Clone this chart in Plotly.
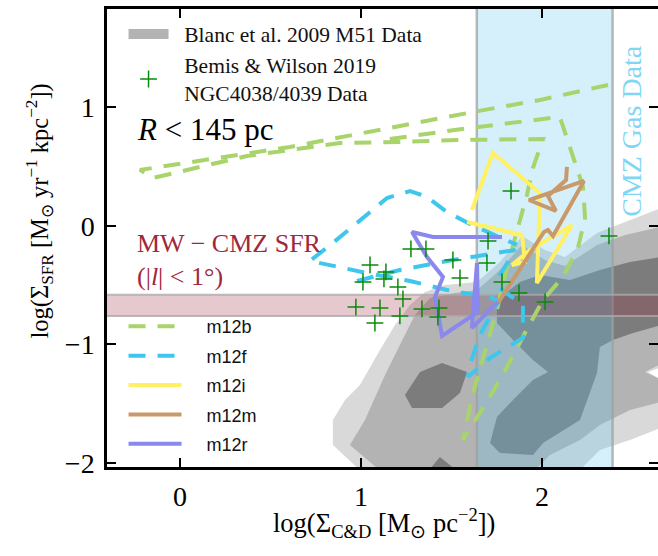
import plotly.graph_objects as go

# ---------------- axes ----------------
x_range = [-0.403, 2.641]
y_range = [-2.034, 1.831]
x_ticks = [0, 1, 2]
x_tick_labels = ["0", "1", "2"]
y_ticks = [-2, -1, 0, 1]
y_tick_labels = ["−2", "−1", "0", "1"]

# ---------------- reference bands ----------------
cmz_gas_x = [1.64, 2.39]          # CMZ gas surface density range
mw_sfr_y = [-0.58, -0.76]         # MW CMZ SFR range
band_full_y = [-2.2, 2.0]
band_full_x = [-0.6, 2.8]

# ---------------- Blanc et al. 2009 M51 contours ----------------
blanc_lo_x = [0.845, 0.912, 0.994, 1.105, 1.188, 1.271, 1.354, 1.464, 1.641, 1.768, 1.890, 2.017, 2.127,
              2.304, 2.459, 2.70, 2.70, 2.586, 2.70, 2.70, 2.486, 2.320, 2.182, 1.022, 0.845]
blanc_lo_y = [-1.637, -1.468, -1.342, -1.046, -0.835, -0.667, -0.557, -0.498, -0.473, -0.304, -0.084, -0.203,
              -0.262, -0.059, 0.034, 0.177, -1.173, -1.232, -1.342, -1.679, -1.806, -1.890, -2.1, -2.1, -1.848]
blanc_mid_x = [0.939, 1.022, 1.133, 1.215, 1.298, 1.381, 1.519, 1.641, 1.768, 1.890, 2.017, 2.127, 2.304,
               2.459, 2.70, 2.70, 2.569, 2.70, 2.70, 2.486, 2.320, 2.210, 2.044, 1.934, 1.133]
blanc_mid_y = [-1.848, -1.637, -1.257, -1.004, -0.751, -0.608, -0.565, -0.540, -0.371, -0.160, -0.287, -0.338,
               -0.160, -0.076, 0.008, -1.131, -1.232, -1.325, -1.468, -1.553, -1.679, -1.806, -1.932, -2.1, -2.1]
blanc_hi_x = [1.751, 1.878, 1.989, 2.155, 2.320, 2.486, 2.70, 2.70, 2.503, 2.392, 2.320, 2.304, 2.210, 2.006,
              1.950, 1.768, 1.713, 1.751, 1.840, 1.950, 2.033, 1.950, 1.840, 1.751, None,
              1.243, 1.326, 1.448, 1.586, 1.547, 1.448, 1.282, None,
              1.354, 1.436, 1.558]
blanc_hi_y = [-0.624, -0.473, -0.414, -0.456, -0.371, -0.304, -0.253, -0.819, -0.903, -0.962, -1.021, -1.241,
              -1.637, -1.831, -1.932, -1.916, -1.831, -1.612, -1.468, -1.300, -1.232, -1.131, -0.962, -0.819, None,
              -1.426, -1.232, -1.156, -1.232, -1.409, -1.536, -1.536, None,
              -2.1, -1.949, -2.1]

# ---------------- Bemis & Wilson 2019 ----------------
bw_x = [1.276, 1.359, 1.050, 1.138, 1.127, 1.011, 1.204, 1.232, 0.972, 1.105, 1.337, 1.431, 1.215, 1.425,
        1.077, 1.508, 1.547, 1.702, 1.696, 1.829, 1.779, 1.873, 2.017, 2.370]
bw_y = [-0.194, -0.194, -0.329, -0.388, -0.447, -0.473, -0.515, -0.616, -0.684, -0.692, -0.700, -0.692,
        -0.759, -0.768, -0.819, -0.287, -0.439, -0.127, -0.312, 0.295, -0.473, -0.565, -0.641, -0.084]

# ---------------- simulations ----------------
m12b_x = [2.365, 1.989, 1.619, 1.160, 0.608, -0.221, -0.149, 0.370, 0.884, 1.215, 1.547, 2.006, 1.950, 1.917,
          1.862, 1.807, 1.751, 1.657, 1.613, 1.564, 1.586, 1.702, 1.807, 1.906, 2.006, 2.116, 2.199, 2.238,
          2.227, 2.099, 1.602, 1.122]
m12b_y = [1.190, 1.063, 0.962, 0.827, 0.667, 0.473, 0.405, 0.591, 0.700, 0.709, 0.726, 0.734, 0.489, 0.262,
          -0.034, -0.346, -0.709, -1.190, -1.443, -1.806, -1.747, -1.468, -1.190, -0.903, -0.624, -0.430,
          -0.186, 0.068, 0.329, 0.920, 0.827, 0.726]
m12f_x = [0.978, 1.215, 1.508, 1.768, 1.851, 1.768, 1.779, 1.895, 1.895, 1.713, 1.591, 1.602, 1.657, 1.757,
          1.729, 1.475, 1.271, 1.033, 0.901, 0.718, 0.845, 0.994, 1.144, 1.271, 1.365, 1.475, 1.602, 1.862]
m12f_y = [-0.464, -0.371, -0.287, -0.219, -0.203, -0.414, -0.540, -0.667, -0.945, -1.114, -1.274, -1.173,
          -0.920, -0.641, -0.608, -0.540, -0.464, -0.397, -0.354, -0.295, -0.143, 0.051, 0.236, 0.295, 0.245,
          0.118, 0.017, -0.160]
m12i_x = [1.613, 1.729, 1.989, 1.983, 1.972, 2.166, 1.934, 1.834, 1.906, 1.890, 1.586]
m12i_y = [0.135, 0.616, 0.278, -0.118, -0.481, 0.008, -0.203, -0.329, -0.304, -0.076, 0.034]
m12m_x = [1.757, 2.011, 2.033, 2.061, 2.232, 1.928, 2.077, 2.033, 2.133, 2.138]
m12m_y = [-0.650, -0.051, -0.034, -0.084, 0.380, 0.219, 0.127, 0.253, 0.388, 0.498]
m12r_x = [1.779, 1.398, 1.282, 1.365, 1.453, 1.409, 1.448, 1.646, 1.641, 1.613, 1.757]
m12r_y = [-0.093, -0.093, -0.051, -0.262, -0.430, -0.599, -0.928, -0.726, -0.312, -0.861, -0.641]

sim_names = ["m12b", "m12f", "m12i", "m12m", "m12r"]
sim_colors = ["#a9d36b", "#3fc6ec", "#fff064", "#c8996b", "#8a88ec"]
sim_dash = ["17px,12px", "17px,12px", "solid", "solid", "solid"]
sim_x = [m12b_x, m12f_x, m12i_x, m12m_x, m12r_x]
sim_y = [m12b_y, m12f_y, m12i_y, m12m_y, m12r_y]

SERIF = "Liberation Serif"
SANS = "Liberation Sans"
NB = "\u00a0"

fig = go.Figure()

# contours
fig.add_trace(go.Scatter(x=blanc_lo_x, y=blanc_lo_y, fill="toself", fillcolor="#d9d9d9", mode="none",
                         showlegend=False, hoverinfo="skip"))
fig.add_trace(go.Scatter(x=blanc_mid_x, y=blanc_mid_y, fill="toself", fillcolor="#b3b3b3", mode="none",
                         showlegend=False, hoverinfo="skip"))
fig.add_trace(go.Scatter(x=blanc_hi_x, y=blanc_hi_y, fill="toself", fillcolor="#7c7c7c", mode="none",
                         showlegend=False, hoverinfo="skip"))
# legend entry for the contours
fig.add_trace(go.Scatter(x=[None], y=[None], mode="lines", line=dict(color="#b3b3b3", width=15),
                         name=NB * 2 + "Blanc et al. 2009 M51 Data", legend="legend", legendrank=1,
                         hoverinfo="skip"))

# CMZ gas band (over contours)
fig.add_trace(go.Scatter(x=[cmz_gas_x[0], cmz_gas_x[1], cmz_gas_x[1], cmz_gas_x[0], cmz_gas_x[0]],
                         y=[band_full_y[0], band_full_y[0], band_full_y[1], band_full_y[1], band_full_y[0]],
                         fill="toself", fillcolor="rgba(100,200,240,0.27)", mode="none",
                         showlegend=False, hoverinfo="skip"))
for xv in cmz_gas_x:
    fig.add_trace(go.Scatter(x=[xv, xv], y=band_full_y, mode="lines",
                             line=dict(color="rgba(160,160,160,0.75)", width=2.5),
                             showlegend=False, hoverinfo="skip"))

# MW CMZ SFR band
fig.add_trace(go.Scatter(x=[band_full_x[0], band_full_x[1], band_full_x[1], band_full_x[0], band_full_x[0]],
                         y=[mw_sfr_y[0], mw_sfr_y[0], mw_sfr_y[1], mw_sfr_y[1], mw_sfr_y[0]],
                         fill="toself", fillcolor="rgba(150,40,60,0.25)", mode="none",
                         showlegend=False, hoverinfo="skip"))
for yv in mw_sfr_y:
    fig.add_trace(go.Scatter(x=band_full_x, y=[yv, yv], mode="lines",
                             line=dict(color="rgba(170,170,170,0.8)", width=2),
                             showlegend=False, hoverinfo="skip"))

# simulations
for nm, c, d, xs, ys in zip(sim_names, sim_colors, sim_dash, sim_x, sim_y):
    fig.add_trace(go.Scatter(x=xs, y=ys, mode="lines", name=NB * 4 + nm,
                             line=dict(color=c, width=4, dash=d),
                             legend="legend2", legendgroup=nm, hoverinfo="skip"))

# observations
fig.add_trace(go.Scatter(x=bw_x, y=bw_y, mode="markers",
                         name=NB * 2 + "Bemis & Wilson 2019<br>" + NB * 2 + "NGC4038/4039 Data",
                         marker=dict(symbol="cross-thin", size=12, line=dict(color="#0a8a0a", width=1.5)),
                         legend="legend", legendrank=2, hoverinfo="skip"))

axis_common = dict(showline=True, linecolor="black", linewidth=2.5, mirror="ticks", ticks="inside",
                   ticklen=9, tickwidth=2, tickcolor="black", showgrid=False, zeroline=False,
                   automargin=False, tickfont=dict(family=SERIF, size=28, color="black"))

fig.update_layout(
    width=658, height=556,
    margin=dict(l=107, r=0, t=9, b=89),
    paper_bgcolor="white", plot_bgcolor="white",
    xaxis=dict(range=x_range, tickvals=x_ticks, ticktext=x_tick_labels, ticklabelstandoff=3, **axis_common),
    yaxis=dict(range=y_range, tickvals=y_ticks, ticktext=y_tick_labels, ticklabelstandoff=4, **axis_common),
    legend=dict(x=0.03, y=0.99, xanchor="left", yanchor="top", bgcolor="rgba(0,0,0,0)",
                font=dict(family=SERIF, size=21.5, color="#111"), itemwidth=40, tracegroupgap=0),
    legend2=dict(x=0.03, y=0.347, xanchor="left", yanchor="top", bgcolor="rgba(0,0,0,0)",
                 font=dict(family=SANS, size=18, color="#111"), itemwidth=53,
                 traceorder="grouped", tracegroupgap=3),
    annotations=[
        dict(text="log(Σ<sub>C&D</sub> [M<sub>⊙</sub> pc<sup>−2</sup>])", x=0.502, y=(467 - 523) / 458,
             xref="paper", yref="paper", yanchor="middle", showarrow=False,
             font=dict(family=SERIF, size=26.5, color="black")),
        dict(text="log(Σ<sub>SFR</sub> [M<sub>⊙</sub> yr<sup>−1</sup> kpc<sup>−2</sup>])", x=-0.158, y=0.56,
             xref="paper", yref="paper", textangle=-90, showarrow=False,
             font=dict(family=SERIF, size=24.5, color="black")),
        dict(text="<i>R</i> < 145 pc", x=0.05, y=0.736, xref="paper", yref="paper", xanchor="left",
             yanchor="middle", showarrow=False, font=dict(family=SERIF, size=31, color="black")),
        dict(text="MW − CMZ SFR", x=0.05, y=0.489, xref="paper", yref="paper", xanchor="left",
             yanchor="middle", showarrow=False, font=dict(family=SERIF, size=26, color="#a0283c")),
        dict(text="(|<i>l</i>| < 1°)", x=0.05, y=0.415, xref="paper", yref="paper", xanchor="left",
             yanchor="middle", showarrow=False, font=dict(family=SERIF, size=26, color="#a0283c")),
        dict(text="CMZ Gas Data", x=2.49, y=0.80, xref="x", yref="y", textangle=-90,
             showarrow=False, font=dict(family=SERIF, size=28, color="#7fd6f5")),
    ],
)

fig.write_html("out.html", config={"displayModeBar": False},
               post_script="document.body.style.margin='0px';")
